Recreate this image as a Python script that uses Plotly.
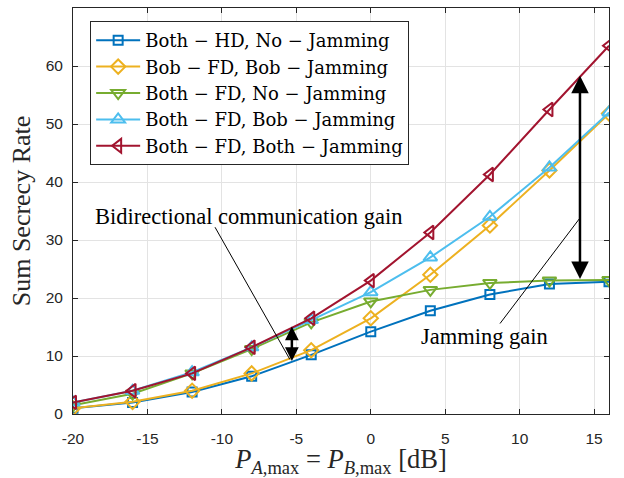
import plotly.graph_objects as go

x_db = [-20, -16, -12, -8, -4, 0, 4, 8, 12, 16]
hd_no_jam = [1.0, 2.0, 3.8, 6.5, 10.2, 14.2, 17.8, 20.6, 22.4, 22.8]
bobfd_bob_jam = [1.0, 2.1, 4.0, 7.0, 11.0, 16.5, 24.0, 32.5, 42.0, 51.8]
bothfd_no_jam = [1.5, 3.5, 7.0, 11.2, 15.8, 19.4, 21.4, 22.6, 23.0, 23.1]
bothfd_bob_jam = [2.0, 4.0, 7.2, 11.5, 16.2, 21.0, 27.0, 34.0, 42.5, 52.0]
bothfd_both_jam = [2.0, 4.0, 7.0, 11.5, 16.5, 23.0, 31.3, 41.3, 52.5, 63.5]

names = ["Both − HD, No − Jamming",
         "Bob − FD, Bob − Jamming",
         "Both − FD, No − Jamming",
         "Both − FD, Bob − Jamming",
         "Both − FD, Both − Jamming"]
series = [hd_no_jam, bobfd_bob_jam, bothfd_no_jam, bothfd_bob_jam, bothfd_both_jam]
colors = ["#0072BD", "#EDB120", "#77AC30", "#4DBEEE", "#A2142F"]
symbols = ["square-open", "diamond-open", "triangle-down-open", "triangle-up-open", "triangle-left-open"]
sizes = [9, 11, 12, 12, 12]

x_ticks = [-20, -15, -10, -5, 0, 5, 10, 15]
y_ticks = [0, 10, 20, 30, 40, 50, 60, 70]

fig = go.Figure()
for name, ys, c, s, sz in zip(names, series, colors, symbols, sizes):
    fig.add_trace(go.Scatter(
        x=x_db, y=ys, name=name, mode="lines+markers",
        line=dict(color=c, width=2),
        marker=dict(symbol=s, size=sz, color=c, line=dict(color=c, width=2)),
    ))

serif = "Liberation Serif"
legend_serif = "DejaVu Serif"
sans = "Liberation Sans"

fig.update_layout(
    width=624, height=478,
    margin=dict(l=73, r=15, t=7, b=63),
    paper_bgcolor="white", plot_bgcolor="white",
    font=dict(family=serif, color="#000000"),
    showlegend=True,
    legend=dict(
        x=0.032, y=0.968, xanchor="left", yanchor="top",
        bgcolor="white", bordercolor="#262626", borderwidth=1,
        font=dict(family=legend_serif, size=18, color="#000000"),
        tracegroupgap=0, itemwidth=44,
    ),
    xaxis=dict(
        range=[-20, 16], tickvals=x_ticks, ticktext=[str(t) for t in x_ticks],
        showgrid=True, gridcolor="#e3e3e3", gridwidth=1,
        showline=True, linecolor="#262626", linewidth=1, mirror="ticks",
        ticks="inside", ticklen=5, tickcolor="#262626",
        tickfont=dict(family=sans, size=15.5, color="#262626"),
        ticklabelstandoff=10,
        zeroline=False,
        title=dict(text="<i>P</i><sub><i>A</i>,max</sub> = <i>P</i><sub><i>B</i>,max</sub> [dB]",
                   font=dict(family=serif, size=26.5, color="#262626"), standoff=6),
    ),
    yaxis=dict(
        range=[0, 70], tickvals=y_ticks, ticktext=[str(t) for t in y_ticks],
        showgrid=True, gridcolor="#e3e3e3", gridwidth=1,
        showline=True, linecolor="#262626", linewidth=1, mirror="ticks",
        ticks="inside", ticklen=5, tickcolor="#262626",
        tickfont=dict(family=sans, size=15.5, color="#262626"),
        ticklabelstandoff=6,
        zeroline=False,
        title=dict(text="Sum Secrecy Rate",
                   font=dict(family=serif, size=26, color="#262626"), standoff=7),
    ),
)

# thin pointer lines
fig.add_shape(type="line", x0=-10.46, y0=32.2, x1=-5.43, y1=9.4,
              line=dict(color="black", width=1), xref="x", yref="y")
fig.add_shape(type="line", x0=14.05, y0=33.8, x1=8.68, y1=15.6,
              line=dict(color="black", width=1), xref="x", yref="y")

# double arrows
for xa, y0, y1, sz in [(-5.3, 8.9, 15.1, 1.1), (14.05, 23.0, 58.3, 1.4)]:
    fig.add_annotation(x=xa, y=y1, ax=xa, ay=y0, xref="x", yref="y",
                       axref="x", ayref="y", text="", showarrow=True,
                       arrowhead=2, startarrowhead=2, arrowside="end+start",
                       arrowsize=sz, startarrowsize=sz, arrowwidth=2.5,
                       arrowcolor="black")

fig.add_annotation(x=-8.18, y=34.0, xref="x", yref="y", text="Bidirectional communication gain",
                   showarrow=False, font=dict(family=serif, size=22.5, color="black"))
fig.add_annotation(x=7.67, y=13.4, xref="x", yref="y", text="Jamming gain",
                   showarrow=False, font=dict(family=serif, size=22.5, color="black"))

fig.write_html("out.html")
